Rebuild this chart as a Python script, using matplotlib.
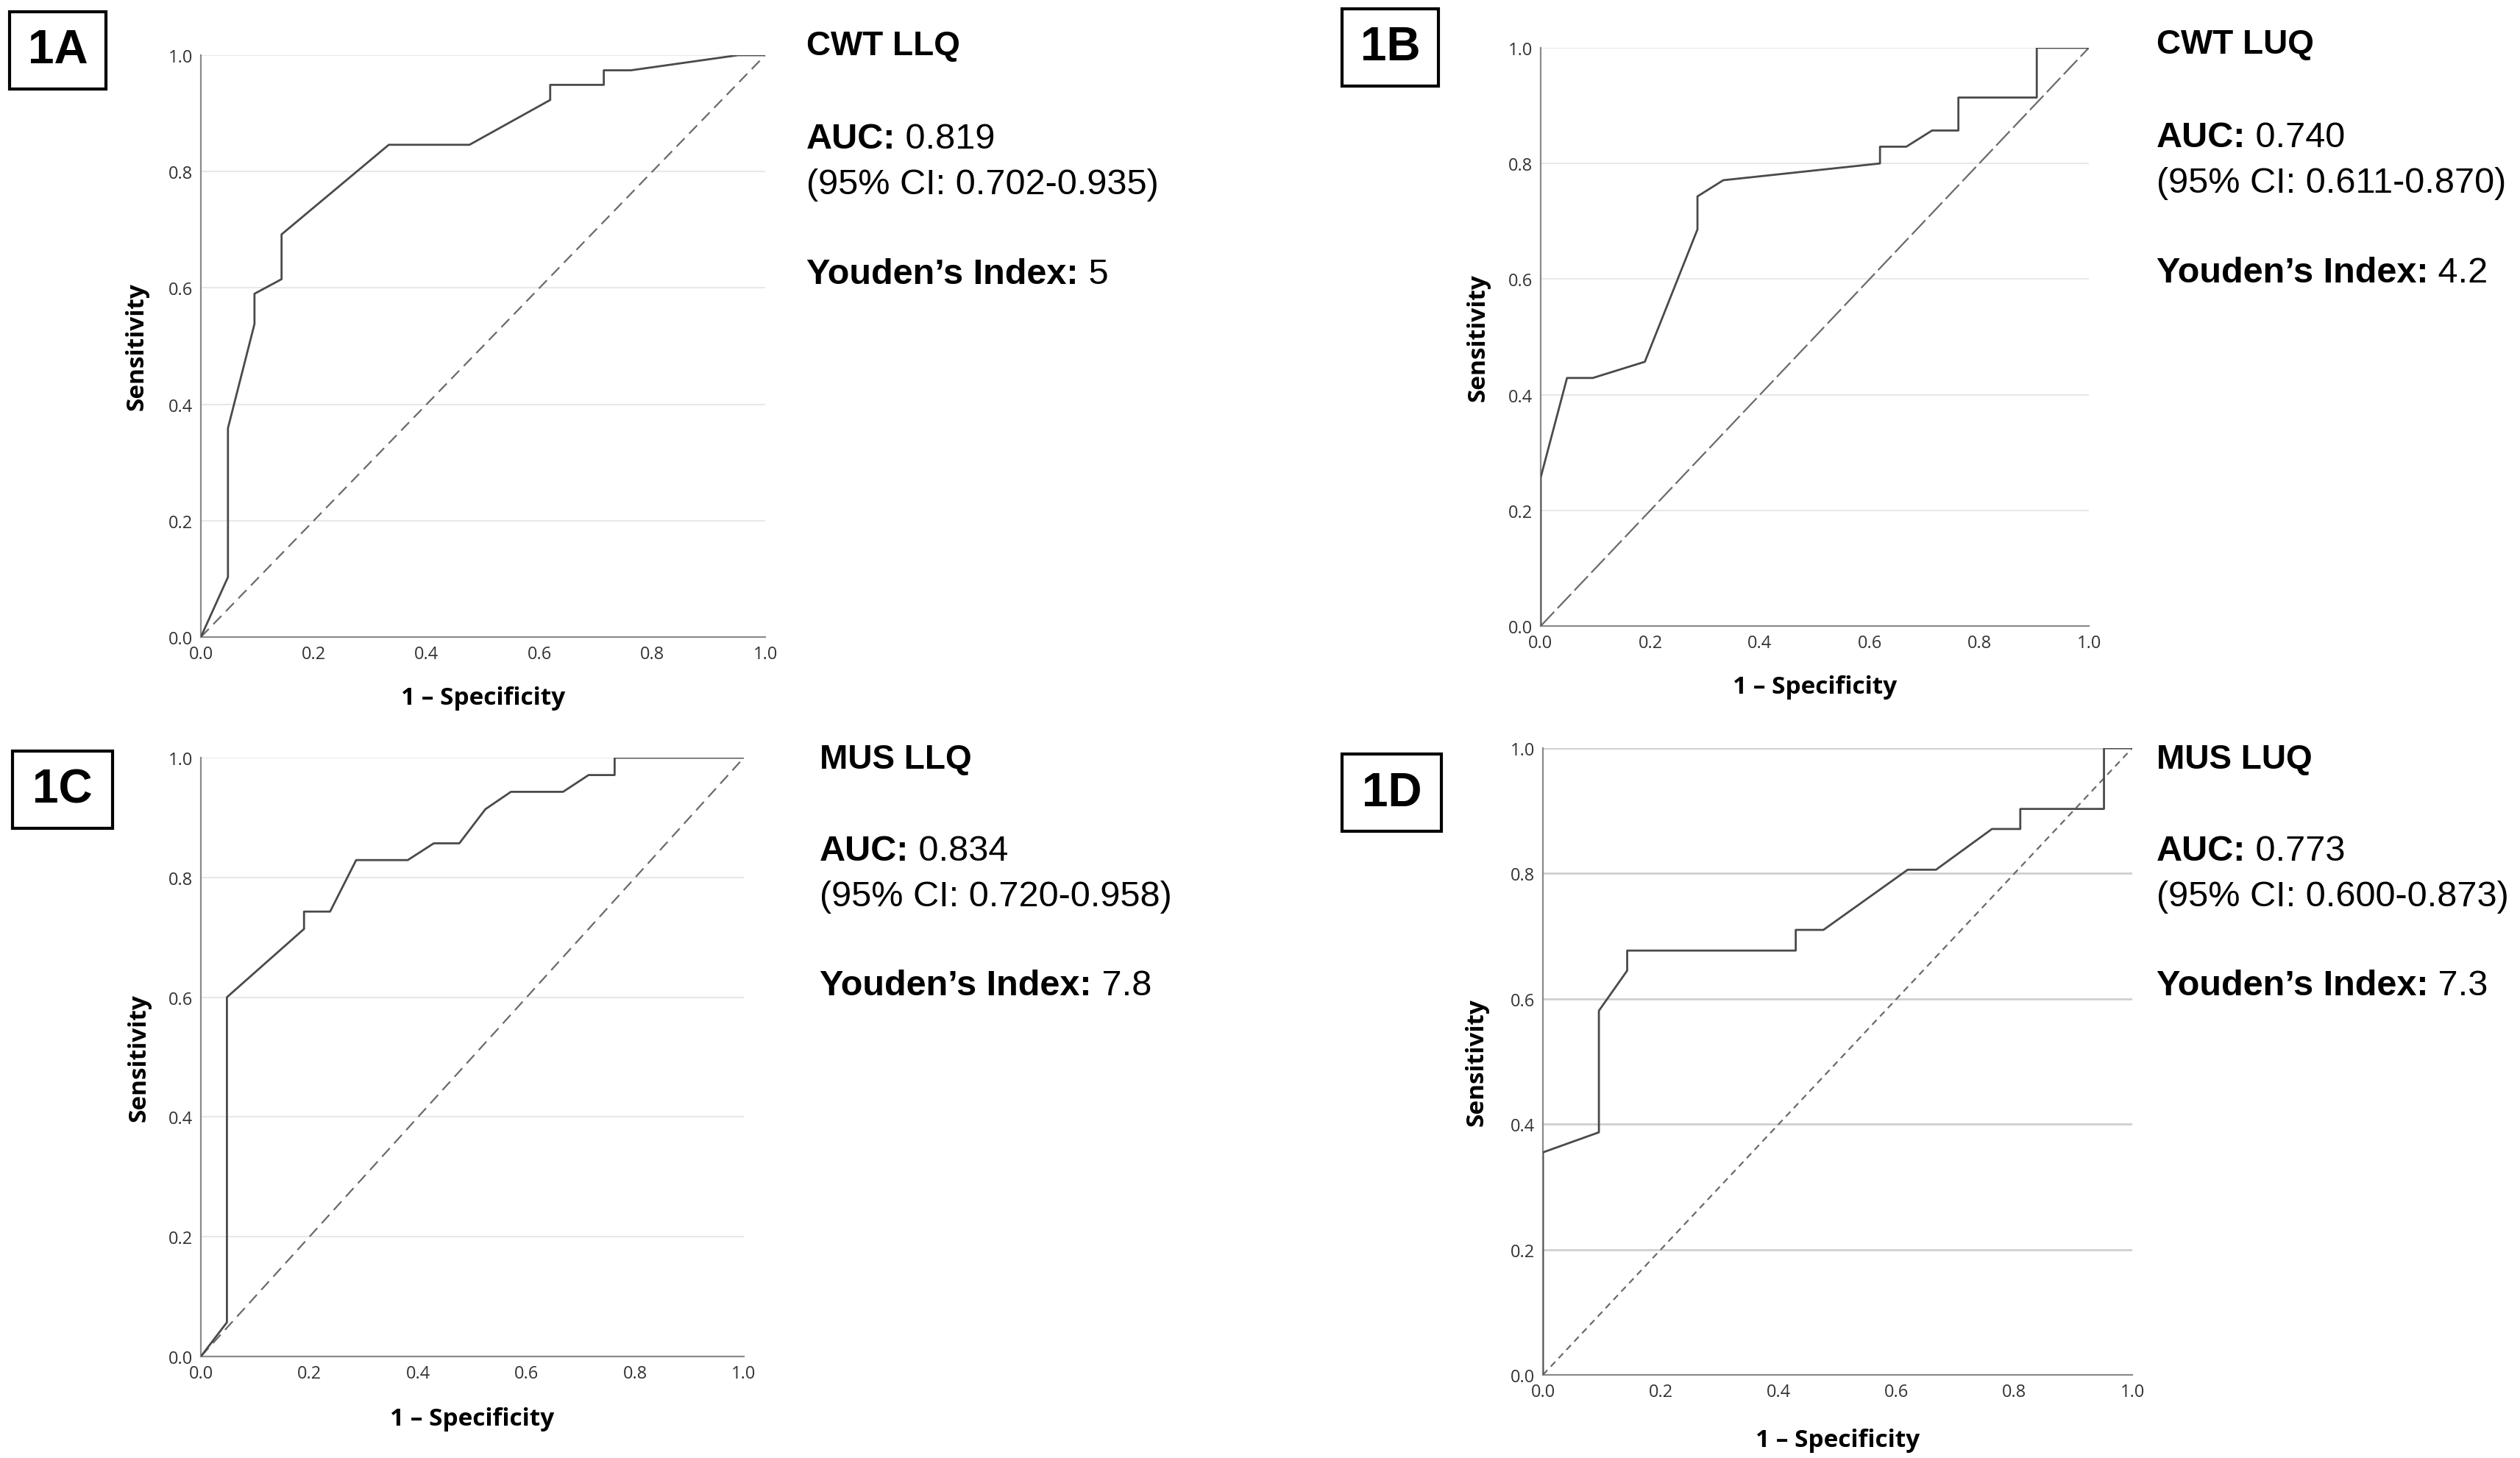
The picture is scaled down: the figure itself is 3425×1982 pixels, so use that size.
"""
ROC curves for CWT and MUS at LLQ / LUQ (panels 1A-1D).
"""
import matplotlib
matplotlib.use("Agg")
import matplotlib.pyplot as plt
from matplotlib.patches import Rectangle

# ROC points (1 - specificity, sensitivity)
a_fpr = [0.0, 0.048, 0.048, 0.095, 0.095, 0.143, 0.143, 0.333, 0.476, 0.619, 0.619, 0.714, 0.714, 0.762, 0.952, 1.0]
a_tpr = [0.0, 0.103, 0.359, 0.538, 0.590, 0.615, 0.692, 0.846, 0.846, 0.923, 0.949, 0.949, 0.974, 0.974, 1.0, 1.0]

b_fpr = [0.0, 0.0, 0.048, 0.095, 0.190, 0.286, 0.286, 0.333, 0.619, 0.619, 0.667, 0.714, 0.762, 0.762, 0.905, 0.905, 1.0]
b_tpr = [0.0, 0.257, 0.429, 0.429, 0.457, 0.686, 0.743, 0.771, 0.800, 0.829, 0.829, 0.857, 0.857, 0.914, 0.914, 1.0, 1.0]

c_fpr = [0.0, 0.048, 0.048, 0.190, 0.190, 0.238, 0.286, 0.381, 0.429, 0.476, 0.524, 0.571, 0.667, 0.714, 0.762, 0.762, 1.0]
c_tpr = [0.0, 0.057, 0.600, 0.714, 0.743, 0.743, 0.829, 0.829, 0.857, 0.857, 0.914, 0.943, 0.943, 0.971, 0.971, 1.0, 1.0]

d_fpr = [0.0, 0.0, 0.095, 0.095, 0.143, 0.143, 0.429, 0.429, 0.476, 0.619, 0.667, 0.762, 0.810, 0.810, 0.952, 0.952, 1.0]
d_tpr = [0.0, 0.355, 0.387, 0.581, 0.645, 0.677, 0.677, 0.710, 0.710, 0.806, 0.806, 0.871, 0.871, 0.903, 0.903, 1.0, 1.0]

panel_ids = ["1A", "1B", "1C", "1D"]
panel_names = ["CWT LLQ", "CWT LUQ", "MUS LLQ", "MUS LUQ"]
auc_values = ["0.819", "0.740", "0.834", "0.773"]
auc_ci = ["(95% CI: 0.702-0.935)", "(95% CI: 0.611-0.870)",
          "(95% CI: 0.720-0.958)", "(95% CI: 0.600-0.873)"]
youden = ["5", "4.2", "7.8", "7.3"]
ticks = [0.0, 0.2, 0.4, 0.6, 0.8, 1.0]
tick_labels = ["0.0", "0.2", "0.4", "0.6", "0.8", "1.0"]

W, H = 3425, 1983
fig = plt.figure(figsize=(W / 100, H / 100), dpi=100)
fig.patch.set_facecolor("white")

def fx(px):
    return px / W

def fy(py):
    return 1 - py / H

# axes boxes in pixels: left, top, right, bottom
boxes = [(273, 76, 1040, 867), (2094, 66, 2839, 852),
         (273, 1031, 1011, 1845), (2097, 1018, 2898, 1870)]
# label boxes in pixels: left, top, right, bottom
id_boxes = [(13, 17, 144, 122), (1824, 13, 1955, 118),
            (17, 1022, 153, 1127), (1824, 1026, 1959, 1131)]
# info text: x, then y centres of four lines
info_pos = [(1096, [63, 190, 251, 373]), (2931, [61, 188, 249, 371]),
            (1114, [1033, 1157, 1219, 1341]), (2931, [1033, 1157, 1219, 1341])]
grid_cols = ["#e8e8e8", "#e8e8e8", "#e8e8e8", "#cfcfcf"]
dash_styles = [(0, (7, 4)), (0, (12, 3)), (0, (7, 4)), (0, (4, 3))]

curves = [(a_fpr, a_tpr), (b_fpr, b_tpr), (c_fpr, c_tpr), (d_fpr, d_tpr)]

renderer = fig.canvas.get_renderer()

def two_part(x, y, bold, normal, size):
    t = fig.text(x, y, bold, fontsize=size, fontweight="bold",
                 family="Liberation Sans", va="center", ha="left")
    bb = t.get_window_extent(renderer=renderer)
    fig.text(bb.x1 / W, y, normal, fontsize=size,
             family="Liberation Sans", va="center", ha="left")

for i in range(4):
    l, t, r, b = boxes[i]
    ax = fig.add_axes([fx(l), fy(b), fx(r - l), (b - t) / H])
    fpr, tpr = curves[i]
    ax.plot(fpr, tpr, color="#4a4a4a", lw=2.0, zorder=3)
    ax.plot([0, 1], [0, 1], color="#6a6a6a", lw=1.6, ls=dash_styles[i], zorder=2)
    ax.set_xlim(0, 1)
    ax.set_ylim(0, 1)
    ax.set_xticks(ticks)
    ax.set_yticks(ticks)
    ax.set_xticklabels(tick_labels)
    ax.set_yticklabels(tick_labels)
    ax.tick_params(length=0, labelsize=17, labelcolor="#333333", pad=8)
    for lab in ax.get_xticklabels() + ax.get_yticklabels():
        lab.set_family("Open Sans")
    for yv in ticks[1:]:
        ax.axhline(yv, color=grid_cols[i], lw=2.0 if i == 3 else 1.5, zorder=1)
    for s in ["top", "right"]:
        ax.spines[s].set_visible(False)
    for s in ["left", "bottom"]:
        ax.spines[s].set_color("#8a8a8a")
        ax.spines[s].set_linewidth(1.6)
    ax.set_xlabel("1 – Specificity", fontsize=24, fontweight="bold", family="Open Sans")
    ax.set_ylabel("Sensitivity", fontsize=24, fontweight="bold", family="Open Sans")
    ax.xaxis.set_label_coords(0.5, -0.084)
    ax.yaxis.set_label_coords(-0.092, 0.5)

    # panel id box
    bl, bt, br, bb_ = id_boxes[i]
    fig.patches.append(Rectangle((fx(bl), fy(bb_)), fx(br - bl), (bb_ - bt) / H,
                                 transform=fig.transFigure, fill=False,
                                 edgecolor="black", lw=3))
    fig.text(fx((bl + br) / 2), fy((bt + bb_) / 2), panel_ids[i], fontsize=46,
             fontweight="bold", family="Liberation Sans", ha="center", va="center")

    # info text
    x0, ys = info_pos[i]
    fig.text(fx(x0), fy(ys[0]), panel_names[i], fontsize=33, fontweight="bold",
             family="Liberation Sans", va="center", ha="left")
    two_part(fx(x0), fy(ys[1]), "AUC:", " " + auc_values[i], 35)
    fig.text(fx(x0), fy(ys[2]), auc_ci[i], fontsize=35,
             family="Liberation Sans", va="center", ha="left")
    two_part(fx(x0), fy(ys[3]), "Youden’s Index:", " " + youden[i], 35)

fig.savefig("out.png", dpi=100, facecolor="white")
